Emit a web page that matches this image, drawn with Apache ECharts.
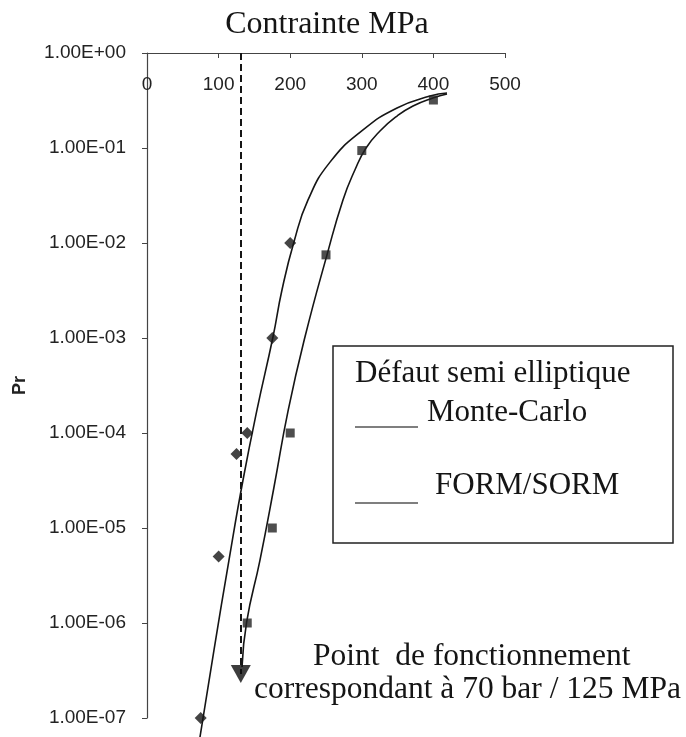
<!DOCTYPE html>
<html>
<head>
<meta charset="utf-8">
<script src="https://cdn.jsdelivr.net/npm/echarts@6/dist/echarts.min.js"></script>
<style>
  html, body { margin: 0; padding: 0; background: #fff; }
  #chart { width: 686px; height: 737px; }
</style>
</head>
<body>
<div id="chart"></div>
<script>
// ---- data ----
const xTicks = [0, 100, 200, 300, 400, 500];
const yTickLabels = ['1.00E-07', '1.00E-06', '1.00E-05', '1.00E-04', '1.00E-03', '1.00E-02', '1.00E-01', '1.00E+00'];

// Monte-Carlo sample points (stress MPa, Pr)
const mcPoints = [[200, 1.0e-2], [175, 1.0e-3], [140, 1.0e-4], [125, 6.0e-5], [100, 5.0e-6], [75, 1.0e-7]];
// FORM/SORM sample points
const fsPoints = [[400, 0.32], [300, 0.094], [250, 7.5e-3], [200, 1.0e-4], [175, 1.0e-5], [140, 1.0e-6]];

// fitted curves
const mcCurve = [[74, 6.3e-8], [93.6, 5.2e-7], [114.5, 4.6e-6], [134.1, 3.2e-5], [153.6, 1.75e-4], [176, 1.03e-3],
                 [188.5, 3.2e-3], [205.3, 1.03e-2], [224.9, 2.84e-2], [255.6, 7.1e-2], [301.7, 0.155],
                 [349.2, 0.264], [395.3, 0.352], [419, 0.379]];
const fsCurve = [[132.7, 3.44e-7], [139.2, 1.03e-6], [157.8, 4.6e-6], [177.4, 2.7e-5], [197.3, 1.75e-4],
                 [220.7, 1.03e-3], [251.4, 7.5e-3], [273.7, 2.84e-2], [290.5, 5.9e-2], [305.9, 0.1],
                 [325.4, 0.151], [349.2, 0.217], [371.5, 0.277], [399.4, 0.336], [419, 0.37]];

// operating point (dashed arrow)
const operatingStress = 131;
const arrowFrom = 1;
const arrowTo = 2.9e-7;

const titleText = 'Contrainte MPa';
const yName = 'Pr';
const legendTitle = 'Défaut semi elliptique';
const seriesNames = ['Monte-Carlo', 'FORM/SORM'];
const noteLines = ['Point  de fonctionnement', 'correspondant à 70 bar / 125 MPa'];

// ---- chart ----
const serif = '"Liberation Serif", "Times New Roman", serif';
const sans = '"Liberation Sans", Arial, sans-serif';
const ink = '#151515';

const chart = echarts.init(document.getElementById('chart'), null, { renderer: 'canvas' });
chart.setOption({
  animation: false,
  backgroundColor: '#ffffff',
  grid: { left: 147, right: 181, top: 53, bottom: 19, containLabel: false },
  title: {
    text: titleText, left: 322, top: 4, textAlign: 'center',
    textStyle: { fontFamily: serif, fontSize: 32, fontWeight: 'normal', color: ink }
  },
  xAxis: {
    type: 'value', position: 'top', min: xTicks[0], max: xTicks[xTicks.length - 1], interval: 100,
    axisLine: { show: true, lineStyle: { color: '#444', width: 1.2 } },
    axisTick: { show: true, inside: true, length: 5, lineStyle: { color: '#444' } },
    axisLabel: { inside: true, margin: 22, fontFamily: sans, fontSize: 19, color: '#222' },
    splitLine: { show: false }
  },
  yAxis: {
    type: 'log', logBase: 10, min: 1e-7, max: 1, splitNumber: 7,
    name: yName, nameLocation: 'middle', nameGap: 118, nameRotate: 90,
    nameTextStyle: { fontFamily: sans, fontSize: 18, fontWeight: 'bold', color: '#222' },
    axisLine: { show: true, lineStyle: { color: '#444', width: 1.2 } },
    axisTick: { show: true, length: 5, lineStyle: { color: '#444' } },
    axisLabel: {
      margin: 21, fontFamily: sans, fontSize: 19, color: '#222',
      formatter: v => yTickLabels[Math.round(Math.log10(v)) + 7]
    },
    splitLine: { show: false }
  },
  series: [
    {
      name: seriesNames[0], type: 'line', data: mcCurve, smooth: 0.5, showSymbol: false, clip: false,
      lineStyle: { color: ink, width: 1.6 }, z: 3
    },
    {
      name: seriesNames[1], type: 'line', data: fsCurve, smooth: 0.5, showSymbol: false, clip: false,
      lineStyle: { color: ink, width: 1.6 }, z: 3,
      markLine: {
        silent: true, symbol: ['none', 'none'],
        label: { show: false },
        lineStyle: { color: ink, width: 2, type: [7, 4] },
        data: [[{ coord: [operatingStress, arrowFrom] }, { coord: [operatingStress, arrowTo] }]]
      }
    },
    {
      name: seriesNames[0] + ' points', type: 'scatter', data: mcPoints, symbol: 'diamond', symbolSize: 12,
      itemStyle: { color: ink }, z: 4
    },
    {
      name: seriesNames[1] + ' points', type: 'scatter', data: fsPoints, symbol: 'rect', symbolSize: 9,
      itemStyle: { color: '#222' }, z: 4
    },
    {
      name: 'arrow head', type: 'scatter', data: [[operatingStress, arrowTo]], symbol: 'triangle',
      symbolRotate: 180, symbolSize: [20, 18], itemStyle: { color: '#0d0d0d' }, z: 5
    }
  ],
  graphic: [
    { type: 'rect', shape: { x: 333, y: 346, width: 340, height: 197 },
      style: { fill: '#fff', stroke: '#222', lineWidth: 1.5 }, z: 10 },
    { type: 'text', x: 355, y: 374, style: { text: legendTitle, font: '31px ' + serif, fill: ink, textVerticalAlign: 'middle' }, z: 11 },
    { type: 'text', x: 427, y: 413, style: { text: seriesNames[0], font: '31px ' + serif, fill: ink, textVerticalAlign: 'middle' }, z: 11 },
    { type: 'line', shape: { x1: 355, y1: 427, x2: 418, y2: 427 }, style: { stroke: '#555', lineWidth: 1.5 }, z: 11 },
    { type: 'text', x: 435, y: 486, style: { text: seriesNames[1], font: '31px ' + serif, fill: ink, textVerticalAlign: 'middle' }, z: 11 },
    { type: 'line', shape: { x1: 355, y1: 503, x2: 418, y2: 503 }, style: { stroke: '#555', lineWidth: 1.5 }, z: 11 },
    { type: 'text', x: 313, y: 657, style: { text: noteLines[0], font: '31.5px ' + serif, fill: ink, textVerticalAlign: 'middle' }, z: 11 },
    { type: 'text', x: 254, y: 690, style: { text: noteLines[1], font: '31.5px ' + serif, fill: ink, textVerticalAlign: 'middle' }, z: 11 }
  ]
});
</script>
</body>
</html>
